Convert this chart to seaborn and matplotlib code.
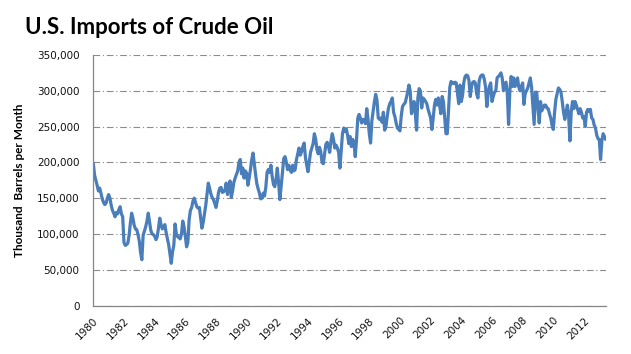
import matplotlib
matplotlib.use("Agg")
import matplotlib.pyplot as plt
import matplotlib.ticker as mticker
import numpy as np
import pandas as pd
import seaborn as sns

# Monthly U.S. crude oil imports, thousand barrels per month, Jan 1980 onward
imports_1980_1984 = [199, 182, 175, 168, 160, 164, 157, 149, 144, 141, 143, 150,
                     155, 150, 140, 133, 129, 124, 130, 128, 134, 138, 128, 124,
                     88, 84, 85, 87, 98, 115, 129, 122, 112, 107, 106, 99,
                     90, 74, 64, 98, 104, 110, 118, 129, 117, 105, 100, 99,
                     97, 92, 96, 108, 122, 113, 107, 109, 113, 102, 93, 85]
imports_1985_1989 = [72, 59, 75, 84, 114, 100, 96, 95, 93, 100, 118, 110,
                     97, 82, 88, 120, 133, 137, 146, 150, 144, 138, 136, 137,
                     122, 108, 116, 128, 140, 155, 171, 164, 156, 151, 148, 143,
                     137, 146, 158, 164, 165, 158, 159, 161, 171, 155, 166, 174,
                     151, 160, 172, 178, 183, 188, 200, 204, 184, 192, 178, 188]
imports_1990_1994 = [185, 168, 178, 190, 204, 213, 198, 183, 170, 163, 157, 149,
                     150, 157, 153, 165, 186, 190, 186, 196, 180, 169, 166, 176,
                     192, 172, 148, 166, 185, 205, 208, 201, 190, 196, 190, 186,
                     196, 188, 190, 204, 212, 220, 210, 215, 222, 227, 207, 196,
                     187, 200, 214, 220, 226, 240, 233, 218, 212, 221, 215, 200]
imports_1995_1999 = [198, 212, 225, 228, 222, 214, 230, 240, 232, 220, 224, 220,
                     214, 192, 215, 240, 248, 243, 247, 238, 226, 236, 222, 232,
                     228, 208, 232, 262, 267, 262, 255, 260, 260, 254, 275, 260,
                     240, 227, 258, 272, 285, 295, 287, 262, 260, 262, 256, 270,
                     245, 250, 264, 276, 282, 285, 290, 270, 264, 255, 248, 246]
imports_2000_2004 = [244, 265, 278, 281, 283, 290, 298, 308, 300, 268, 275, 285,
                     268, 245, 290, 303, 300, 276, 290, 288, 285, 282, 274, 268,
                     262, 246, 262, 280, 288, 280, 290, 280, 268, 292, 285, 262,
                     240, 240, 272, 305, 313, 311, 310, 312, 311, 296, 282, 308,
                     285, 294, 312, 320, 322, 321, 314, 292, 306, 312, 313, 311]
imports_2005_2009 = [296, 290, 314, 320, 322, 322, 316, 305, 278, 296, 306, 311,
                     285, 292, 298, 300, 318, 320, 322, 325, 318, 300, 310, 312,
                     296, 253, 300, 320, 306, 318, 306, 310, 318, 305, 300, 306,
                     311, 281, 296, 300, 304, 311, 318, 305, 280, 253, 298, 298,
                     275, 255, 285, 272, 276, 280, 280, 276, 275, 268, 262, 252]
imports_2010_2013 = [246, 270, 288, 296, 304, 302, 298, 285, 270, 260, 270, 280,
                     265, 230, 270, 285, 275, 285, 280, 274, 268, 275, 270, 262,
                     264, 250, 270, 274, 271, 274, 262, 260, 252, 248, 238, 233,
                     232, 204, 230, 240, 236, 232]

imports = (imports_1980_1984 + imports_1985_1989 + imports_1990_1994 +
           imports_1995_1999 + imports_2000_2004 + imports_2005_2009 +
           imports_2010_2013)
imports = [v * 1000 for v in imports]
years = 1980 + np.arange(len(imports)) / 12.0

tick_years = list(range(1980, 2013, 2))
y_ticks = [0, 50000, 100000, 150000, 200000, 250000, 300000, 350000]

title = "U.S. Imports of Crude Oil"
ylabel = "Thousand  Barrels per Month"

df = pd.DataFrame({"year": years, "imports": imports})

sns.set_theme(style="white")
plt.rcParams["font.family"] = ["DejaVu Sans"]

fig = plt.figure(figsize=(6.31, 3.54), dpi=100)
ax = fig.add_axes([93.3 / 631, 1 - 305.5 / 354, (605.7 - 93.3) / 631, (305.5 - 55) / 354])

sns.lineplot(data=df, x="year", y="imports", ax=ax, color="#4A7EBB", linewidth=2.3)

ax.set_xlim(years[0], years[-1])
ax.set_ylim(0, 350000)
ax.set_xticks(tick_years)
ax.set_xticklabels([str(y) for y in tick_years], rotation=45, ha="right",
                   rotation_mode="anchor", fontsize=7.5, color="#111111")
ax.set_yticks(y_ticks)
ax.yaxis.set_major_formatter(mticker.FuncFormatter(lambda v, p: f"{int(v):,}"))
ax.tick_params(axis="y", labelsize=7.5, labelcolor="#111111", length=5, width=0.8,
               color="#868686", direction="out", pad=5)
ax.tick_params(axis="x", length=4, width=0.8, color="#868686", direction="out", pad=3)

ax.grid(axis="y", color="#8c8c8c", linestyle=(0, (6, 2.5, 1, 2.5)), linewidth=0.8)
ax.grid(axis="x", visible=False)
ax.set_axisbelow(True)

for s in ["top", "right"]:
    ax.spines[s].set_visible(False)
for s in ["left", "bottom"]:
    ax.spines[s].set_color("#868686")
    ax.spines[s].set_linewidth(0.9)

ax.set_xlabel("")
ax.set_ylabel(ylabel, fontsize=8.5, fontweight="bold", color="black",
              family=["Lato", "DejaVu Sans"], labelpad=10)
ax.yaxis.set_label_coords(-0.133, 0.5)

fig.text(25 / 631, 1 - 28 / 354, title, fontsize=16, fontweight="bold",
         family=["Lato", "DejaVu Sans"], va="center", ha="left", color="black")

fig.savefig("out.png", dpi=100)
